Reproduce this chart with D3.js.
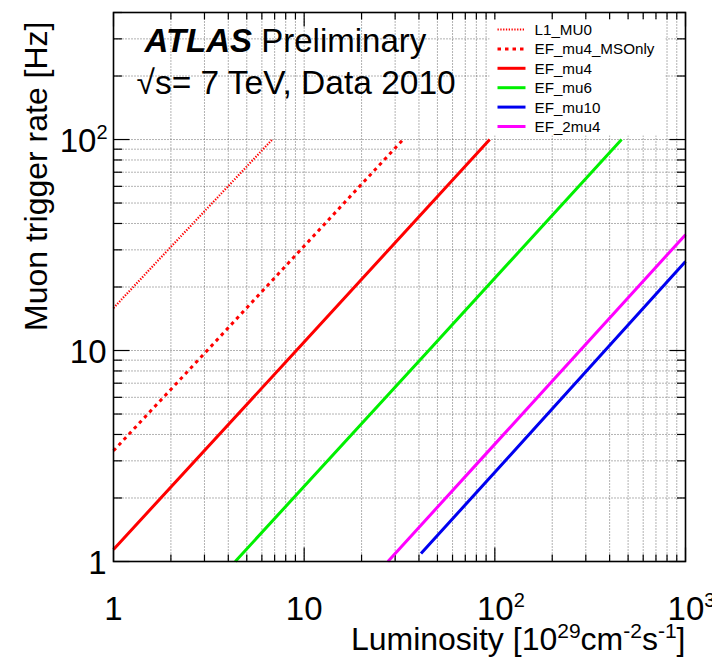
<!DOCTYPE html>
<html>
<head>
<meta charset="utf-8">
<script src="https://cdn.jsdelivr.net/npm/d3@7"></script>
<style>
  body { margin: 0; background: #fff; }
  text { font-family: "Liberation Sans", Arial, sans-serif; fill: #000; }
</style>
</head>
<body>
<svg id="chart"></svg>
<script>
// trigger rate vs luminosity
const seriesNames = ['L1_MU0', 'EF_mu4_MSOnly', 'EF_mu4', 'EF_mu6', 'EF_mu10', 'EF_2mu4'];
const L1_MU0 = [[1, 15.9], [2, 31], [6.8, 100]];
const EF_mu4_MSOnly = [[1, 3.35], [3.1, 10], [33, 100]];
const EF_mu4 = [[1, 1.14], [9.1, 10], [94, 100]];
const EF_mu6 = [[4.35, 1], [45, 10], [462, 100]];
const EF_mu10 = [[41, 1.09], [100, 2.65], [1000, 26.4]];
const EF_2mu4 = [[27.5, 1], [100, 3.6], [1000, 35.4]];
const seriesValues = [L1_MU0, EF_mu4_MSOnly, EF_mu4, EF_mu6, EF_mu10, EF_2mu4];

const xDomain = [1, 1000];
const yDomain = [1, 400];
const xMajor = [1, 10, 100, 1000];
const yMajor = [1, 10, 100];

class RatePlot {

    constructor(_config) {
        this.config = {
            parentElement: _config.parentElement,
            width: 712,
            height: 659,
            margin: {top: 12.5, right: 26.5, bottom: 97.5, left: 113.5}
        };
        this.initVis();
    }

    initVis() {
        let vis = this;
        const m = vis.config.margin;
        vis.w = vis.config.width - m.left - m.right;
        vis.h = vis.config.height - m.top - m.bottom;

        vis.svg = d3.select(vis.config.parentElement)
            .attr('width', vis.config.width)
            .attr('height', vis.config.height);

        vis.chart = vis.svg.append('g')
            .attr('transform', `translate(${m.left},${m.top})`);

        vis.x = d3.scaleLog().domain(xDomain).range([0, vis.w]);
        vis.y = d3.scaleLog().domain(yDomain).range([vis.h, 0]);

        vis.styles = {
            L1_MU0: {color: '#ff0000', dash: '1.3,1.5', width: 2.2},
            EF_mu4_MSOnly: {color: '#ff0000', dash: '3.5,4', width: 3},
            EF_mu4: {color: '#ff0000', dash: null, width: 3},
            EF_mu6: {color: '#00f000', dash: null, width: 3},
            EF_mu10: {color: '#0000f0', dash: null, width: 3},
            EF_2mu4: {color: '#ff00ff', dash: null, width: 3}
        };
    }

    render() {
        let vis = this;
        const xt = vis.x.ticks();
        const yt = vis.y.ticks().filter(d => d <= yDomain[1]);

        // dotted grid at every major + minor tick
        const grid = vis.chart.append('g')
            .attr('stroke', '#555')
            .attr('stroke-width', 0.9)
            .attr('stroke-dasharray', '1,2');
        grid.selectAll('.gx').data(xt.filter(d => d > xDomain[0] && d < xDomain[1]))
            .join('line')
            .attr('x1', d => vis.x(d)).attr('x2', d => vis.x(d))
            .attr('y1', 0).attr('y2', vis.h);
        grid.selectAll('.gy').data(yt.filter(d => d > yDomain[0]))
            .join('line')
            .attr('y1', d => vis.y(d)).attr('y2', d => vis.y(d))
            .attr('x1', 0).attr('x2', vis.w);

        // ticks on all four sides (ROOT style, inside)
        const ticks = vis.chart.append('g').attr('stroke', '#000').attr('stroke-width', 1.2);
        const xLen = d => xMajor.includes(d) ? 14 : 7;
        const yLen = d => yMajor.includes(d) ? 16 : 8.5;
        ticks.selectAll('.tb').data(xt).join('line')
            .attr('x1', d => vis.x(d)).attr('x2', d => vis.x(d))
            .attr('y1', vis.h).attr('y2', d => vis.h - xLen(d));
        ticks.selectAll('.tt').data(xt).join('line')
            .attr('x1', d => vis.x(d)).attr('x2', d => vis.x(d))
            .attr('y1', 0).attr('y2', d => xLen(d));
        ticks.selectAll('.tl').data(yt).join('line')
            .attr('y1', d => vis.y(d)).attr('y2', d => vis.y(d))
            .attr('x1', 0).attr('x2', d => yLen(d));
        ticks.selectAll('.tr').data(yt).join('line')
            .attr('y1', d => vis.y(d)).attr('y2', d => vis.y(d))
            .attr('x1', vis.w).attr('x2', d => vis.w - yLen(d));

        // curves
        const line = d3.line().x(d => vis.x(d[0])).y(d => vis.y(d[1]));
        vis.chart.append('g')
            .selectAll('.rate')
            .data(seriesNames.map((n, i) => ({name: n, values: seriesValues[i]})))
            .join('path').attr('class', 'rate')
                .attr('d', d => line(d.values))
                .attr('fill', 'none')
                .attr('stroke', d => vis.styles[d.name].color)
                .attr('stroke-width', d => vis.styles[d.name].width)
                .attr('stroke-dasharray', d => vis.styles[d.name].dash);

        // frame
        vis.chart.append('rect')
            .attr('width', vis.w).attr('height', vis.h)
            .attr('fill', 'none').attr('stroke', '#000').attr('stroke-width', 1.6);

        // tick labels
        const powLabel = (sel, d) => {
            const e = Math.round(Math.log10(d));
            if (e < 2) { sel.text(d); return; }
            sel.append('tspan').text('10');
            sel.append('tspan').attr('font-size', 20).attr('dy', -13).text(e);
        };
        vis.chart.selectAll('.xl').data(xMajor).join('text')
            .attr('x', d => vis.x(d) + (d >= 100 ? 6 : 0))
            .attr('y', vis.h + 58)
            .attr('text-anchor', 'middle')
            .attr('font-size', 33)
            .each(function(d) { powLabel(d3.select(this), d); });
        vis.chart.selectAll('.yl').data(yMajor).join('text')
            .attr('x', d => d >= 100 ? -6 : -7)
            .attr('y', d => vis.y(d) + 12)
            .attr('text-anchor', 'end')
            .attr('font-size', 33)
            .each(function(d) { powLabel(d3.select(this), d); });

        // axis titles
        const xt2 = vis.chart.append('text')
            .attr('x', vis.w).attr('y', vis.h + 88)
            .attr('text-anchor', 'end').attr('font-size', 32);
        xt2.append('tspan').text('Luminosity [10');
        xt2.append('tspan').attr('font-size', 21).attr('dy', -12).text('29');
        xt2.append('tspan').attr('dy', 12).text('cm');
        xt2.append('tspan').attr('font-size', 21).attr('dy', -12).text('-2');
        xt2.append('tspan').attr('dy', 12).text('s');
        xt2.append('tspan').attr('font-size', 21).attr('dy', -12).text('-1');
        xt2.append('tspan').attr('dy', 12).text(']');

        vis.chart.append('text')
            .attr('transform', `translate(${-67},${9}) rotate(-90)`)
            .attr('text-anchor', 'end').attr('font-size', 32)
            .text('Muon trigger rate [Hz]');

        // ATLAS label
        const lab = vis.chart.append('text')
            .attr('x', 31).attr('y', 39).attr('font-size', 33);
        lab.append('tspan').attr('font-weight', 'bold').attr('font-style', 'italic').text('ATLAS');
        lab.append('tspan').text(' Preliminary');
        const en = vis.chart.append('text')
            .attr('x', 23).attr('y', 81).attr('font-size', 33.5);
        en.append('tspan').text('\u221As= 7 TeV, Data 2010');

        // legend
        const leg = vis.chart.append('g').attr('transform', 'translate(376,7)');
        leg.append('rect').attr('width', 176).attr('height', 116).attr('fill', '#fff');
        const row = leg.selectAll('.leg').data(seriesNames).join('g')
            .attr('transform', (d, i) => `translate(0,${10 + i * 19.4})`);
        row.append('line')
            .attr('x1', 8).attr('x2', 36).attr('y1', 0).attr('y2', 0)
            .attr('stroke', d => vis.styles[d].color)
            .attr('stroke-width', d => vis.styles[d].width)
            .attr('stroke-dasharray', d => vis.styles[d].dash);
        row.append('text')
            .attr('x', 45).attr('y', 5.5).attr('font-size', 15.2)
            .text(d => d);
    }
}

let plot = new RatePlot({parentElement: '#chart'});
plot.render();
</script>
</body>
</html>
